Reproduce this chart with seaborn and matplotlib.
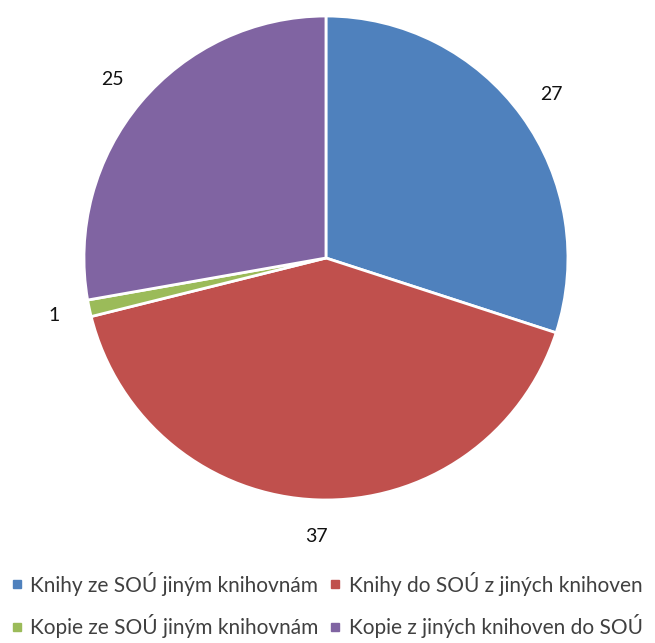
import seaborn as sns
import matplotlib.pyplot as plt
from matplotlib.lines import Line2D

# categories and counts
categories = [
    "Knihy ze SOÚ jiným knihovnám",
    "Knihy do SOÚ z jiných knihoven",
    "Kopie ze SOÚ jiným knihovnám",
    "Kopie z jiných knihoven do SOÚ",
]
counts = [27, 37, 1, 25]
colors = ["#4F81BD", "#C0504D", "#9BBB59", "#8064A2"]


def main():
    sns.set_theme(style="white")
    plt.rcParams["font.family"] = ["Lato", "DejaVu Sans"]
    palette = sns.color_palette(colors)

    fig = plt.figure(figsize=(6.55, 6.43), dpi=100)
    ax = fig.add_axes([0.1282, 0.2224, 0.7389, 0.7527])

    wedges, texts = ax.pie(
        counts,
        labels=[str(c) for c in counts],
        colors=palette,
        startangle=90,
        counterclock=False,
        labeldistance=1.15,
        wedgeprops=dict(edgecolor="white", linewidth=2),
        textprops=dict(fontsize=14, color="#111111"),
    )
    for t in texts:
        t.set_horizontalalignment("center")
        t.set_verticalalignment("center")
    ax.set_xlim(-1, 1)
    ax.set_ylim(-1, 1)
    ax.set_aspect("equal")
    ax.axis("off")

    handles = [
        Line2D([], [], marker="s", linestyle="none", markersize=6,
               markerfacecolor=c, markeredgecolor=c)
        for c in palette
    ]
    # legend fills column by column, so reorder to get rows: blue/red, green/purple
    order = [0, 2, 1, 3]
    fig.legend(
        [handles[i] for i in order], [categories[i] for i in order],
        loc="upper center", bbox_to_anchor=(0.5, 1 - 553 / 643),
        ncol=2, frameon=False, fontsize=15,
        handlelength=0.4, handletextpad=0.45,
        columnspacing=0.6, labelspacing=0.9,
        labelcolor="#404040",
    )

    fig.savefig("out.png", dpi=100)


if __name__ == "__main__":
    main()
